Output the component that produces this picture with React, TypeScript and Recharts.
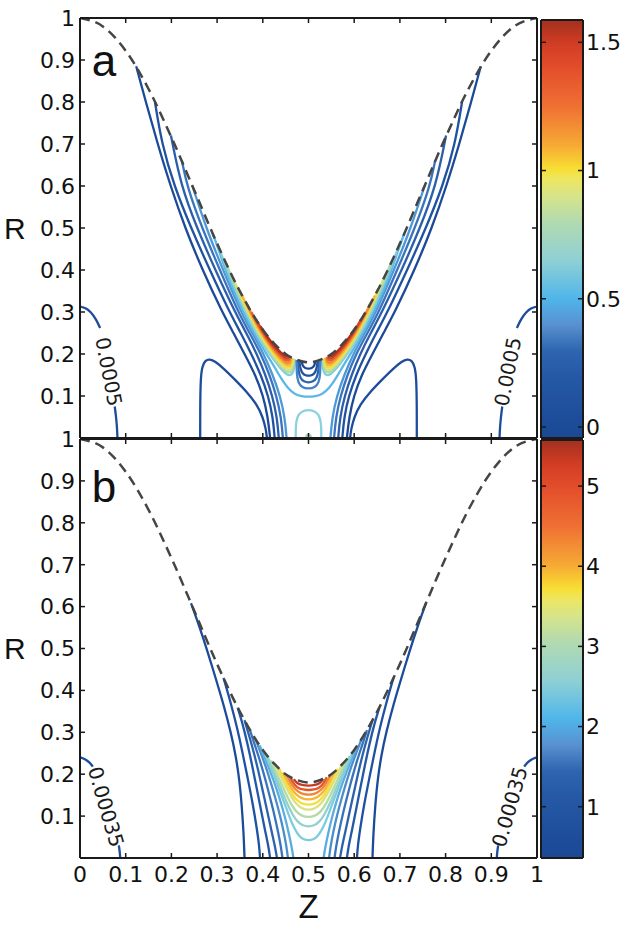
import React from "react";
import { ComposedChart, Line, XAxis, YAxis, ReferenceDot, ReferenceArea, Label } from "recharts";

type P = [number, number];

const FONT = '"Liberation Sans", Arial, Helvetica, sans-serif';
const NUMFONT = '"DejaVu Sans", "Liberation Sans", sans-serif';

// axis ticks
const zTicks = [0, 0.1, 0.2, 0.3, 0.4, 0.5, 0.6, 0.7, 0.8, 0.9, 1];
const rTicks = [0, 0.1, 0.2, 0.3, 0.4, 0.5, 0.6, 0.7, 0.8, 0.9, 1];
const rLabelTicks = [0.1, 0.2, 0.3, 0.4, 0.5, 0.6, 0.7, 0.8, 0.9, 1];

// colorbars
const cbTopDomain: P = [-0.043, 1.587];
const cbTopTicks = [0, 0.5, 1, 1.5];
const cbBotDomain: P = [0.36, 5.575];
const cbBotTicks = [1, 2, 3, 4, 5];
const cbSpan = [0, 1];

// dashed boundary (same in both panels)
const boundary: P[] = [
  [0, 1], [0.05, 0.98], [0.1, 0.922], [0.15, 0.831], [0.2, 0.716], [0.25, 0.59], [0.3, 0.463],
  [0.35, 0.349], [0.4, 0.258], [0.425, 0.225], [0.45, 0.2], [0.475, 0.186], [0.5, 0.18],
  [0.525, 0.186], [0.55, 0.2], [0.575, 0.225], [0.6, 0.258], [0.65, 0.349], [0.7, 0.463],
  [0.75, 0.59], [0.8, 0.716], [0.85, 0.831], [0.9, 0.922], [0.95, 0.98], [1, 1],
];

// ---------- panel a ----------
const tCornerL1: P[] = [[0, 0.313], [0.012, 0.31], [0.024, 0.3], [0.035, 0.283], [0.044, 0.262]];
const tCornerL2: P[] = [[0.076, 0.075], [0.079, 0.05], [0.081, 0.025], [0.082, 0]];
const tCornerR1: P[] = [[1, 0.313], [0.988, 0.31], [0.976, 0.3], [0.965, 0.283], [0.956, 0.262]];
const tCornerR2: P[] = [[0.924, 0.075], [0.921, 0.05], [0.919, 0.025], [0.918, 0]];

const tBumpL: P[] = [[0.263, 0], [0.263, 0.08], [0.264, 0.14], [0.267, 0.17], [0.274, 0.185], [0.284, 0.188], [0.295, 0.183], [0.315, 0.165], [0.34, 0.138], [0.365, 0.11], [0.387, 0.08], [0.4, 0.05], [0.407, 0.02], [0.409, 0]];
const tBumpR: P[] = [[0.737, 0], [0.737, 0.08], [0.736, 0.14], [0.733, 0.17], [0.726, 0.185], [0.716, 0.188], [0.705, 0.183], [0.685, 0.165], [0.66, 0.138], [0.635, 0.11], [0.613, 0.08], [0.6, 0.05], [0.593, 0.02], [0.591, 0]];

const tA1L: P[] = [[0.123, 0.885], [0.144, 0.8], [0.17, 0.7], [0.198, 0.6], [0.23, 0.5], [0.268, 0.4], [0.311, 0.3], [0.336, 0.25], [0.36, 0.2], [0.384, 0.15], [0.401, 0.1], [0.411, 0.05], [0.416, 0]];
const tA2L: P[] = [[0.164, 0.8], [0.179, 0.7], [0.206, 0.6], [0.243, 0.5], [0.284, 0.4], [0.327, 0.3], [0.352, 0.25], [0.375, 0.2], [0.396, 0.15], [0.412, 0.1], [0.422, 0.05], [0.426, 0]];
const tA3L: P[] = [[0.199, 0.72], [0.221, 0.6], [0.256, 0.5], [0.296, 0.4], [0.339, 0.3], [0.364, 0.25], [0.387, 0.2], [0.406, 0.15], [0.421, 0.1], [0.431, 0.05], [0.435, 0]];
const tA4L: P[] = [[0.223, 0.66], [0.234, 0.6], [0.267, 0.5], [0.306, 0.4], [0.346, 0.3], [0.371, 0.25], [0.396, 0.2], [0.415, 0.15], [0.43, 0.1], [0.44, 0.05], [0.444, 0]];
const tA5L: P[] = [[0.246, 0.6], [0.276, 0.5], [0.313, 0.4], [0.352, 0.3], [0.377, 0.25], [0.402, 0.2], [0.422, 0.15], [0.438, 0.1], [0.448, 0.05], [0.452, 0]];
const tA1R: P[] = [[0.877, 0.885], [0.856, 0.8], [0.83, 0.7], [0.802, 0.6], [0.77, 0.5], [0.732, 0.4], [0.689, 0.3], [0.664, 0.25], [0.64, 0.2], [0.616, 0.15], [0.599, 0.1], [0.589, 0.05], [0.584, 0]];
const tA2R: P[] = [[0.836, 0.8], [0.821, 0.7], [0.794, 0.6], [0.757, 0.5], [0.716, 0.4], [0.673, 0.3], [0.648, 0.25], [0.625, 0.2], [0.604, 0.15], [0.588, 0.1], [0.578, 0.05], [0.574, 0]];
const tA3R: P[] = [[0.801, 0.72], [0.779, 0.6], [0.744, 0.5], [0.704, 0.4], [0.661, 0.3], [0.636, 0.25], [0.613, 0.2], [0.594, 0.15], [0.579, 0.1], [0.569, 0.05], [0.565, 0]];
const tA4R: P[] = [[0.777, 0.66], [0.766, 0.6], [0.733, 0.5], [0.694, 0.4], [0.654, 0.3], [0.629, 0.25], [0.604, 0.2], [0.585, 0.15], [0.57, 0.1], [0.56, 0.05], [0.556, 0]];
const tA5R: P[] = [[0.754, 0.6], [0.724, 0.5], [0.687, 0.4], [0.648, 0.3], [0.623, 0.25], [0.598, 0.2], [0.578, 0.15], [0.562, 0.1], [0.552, 0.05], [0.548, 0]];

// light blue contour passing under the centre loops
const tF: P[] = [[0.29, 0.488], [0.303, 0.45], [0.318, 0.4], [0.337, 0.35], [0.357, 0.3], [0.381, 0.25], [0.408, 0.2], [0.425, 0.17], [0.44, 0.142], [0.455, 0.118], [0.47, 0.104], [0.485, 0.099], [0.5, 0.098], [0.515, 0.099], [0.53, 0.104], [0.545, 0.118], [0.56, 0.142], [0.575, 0.17], [0.592, 0.2], [0.619, 0.25], [0.643, 0.3], [0.663, 0.35], [0.682, 0.4], [0.697, 0.45], [0.71, 0.488]];

// coloured crescents along the boundary, left
const tU0L: P[] = [[0.395, 0.266], [0.406, 0.247], [0.4175, 0.23], [0.429, 0.215], [0.44, 0.203], [0.45, 0.194], [0.455, 0.196]];
const tU1L: P[] = [[0.385, 0.2825], [0.399, 0.256], [0.4125, 0.234], [0.426, 0.215], [0.44, 0.199], [0.451, 0.189], [0.455, 0.189], [0.457, 0.195]];
const tU2L: P[] = [[0.375, 0.3], [0.391, 0.2665], [0.4075, 0.238], [0.424, 0.2135], [0.44, 0.194], [0.452, 0.183], [0.457, 0.185], [0.459, 0.1936]];
const tU3L: P[] = [[0.365, 0.319], [0.384, 0.2766], [0.4025, 0.2423], [0.421, 0.213], [0.44, 0.189], [0.452, 0.178], [0.457, 0.178], [0.46, 0.184], [0.461, 0.192]];
const tU4L: P[] = [[0.355, 0.339], [0.376, 0.289], [0.3975, 0.247], [0.419, 0.2115], [0.44, 0.184], [0.452, 0.173], [0.458, 0.172], [0.461, 0.178], [0.463, 0.191]];
const tU5L: P[] = [[0.345, 0.359], [0.369, 0.2997], [0.3925, 0.2512], [0.416, 0.2108], [0.44, 0.179], [0.452, 0.168], [0.459, 0.166], [0.463, 0.175], [0.465, 0.19]];
const tU6L: P[] = [[0.335, 0.381], [0.361, 0.3135], [0.388, 0.2557], [0.414, 0.2098], [0.44, 0.174], [0.452, 0.162], [0.46, 0.16], [0.465, 0.17], [0.467, 0.189]];
const tU7L: P[] = [[0.32, 0.4154], [0.35, 0.3338], [0.38, 0.2665], [0.41, 0.2111], [0.44, 0.169], [0.452, 0.157], [0.461, 0.155], [0.466, 0.168], [0.469, 0.188]];
const tU8L: P[] = [[0.3, 0.4635], [0.335, 0.3636], [0.37, 0.281], [0.405, 0.2134], [0.44, 0.163], [0.452, 0.151], [0.462, 0.148], [0.468, 0.16], [0.471, 0.187]];
// right
const tU0R: P[] = [[0.605, 0.266], [0.594, 0.247], [0.5825, 0.23], [0.571, 0.215], [0.56, 0.203], [0.55, 0.194], [0.545, 0.196]];
const tU1R: P[] = [[0.615, 0.2825], [0.601, 0.256], [0.5875, 0.234], [0.574, 0.215], [0.56, 0.199], [0.549, 0.189], [0.545, 0.189], [0.543, 0.195]];
const tU2R: P[] = [[0.625, 0.3], [0.609, 0.2665], [0.5925, 0.238], [0.576, 0.2135], [0.56, 0.194], [0.548, 0.183], [0.543, 0.185], [0.541, 0.1936]];
const tU3R: P[] = [[0.635, 0.319], [0.616, 0.2766], [0.5975, 0.2423], [0.579, 0.213], [0.56, 0.189], [0.548, 0.178], [0.543, 0.178], [0.54, 0.184], [0.539, 0.192]];
const tU4R: P[] = [[0.645, 0.339], [0.624, 0.289], [0.6025, 0.247], [0.581, 0.2115], [0.56, 0.184], [0.548, 0.173], [0.542, 0.172], [0.539, 0.178], [0.537, 0.191]];
const tU5R: P[] = [[0.655, 0.359], [0.631, 0.2997], [0.6075, 0.2512], [0.584, 0.2108], [0.56, 0.179], [0.548, 0.168], [0.541, 0.166], [0.537, 0.175], [0.535, 0.19]];
const tU6R: P[] = [[0.665, 0.381], [0.639, 0.3135], [0.612, 0.2557], [0.586, 0.2098], [0.56, 0.174], [0.548, 0.162], [0.54, 0.16], [0.535, 0.17], [0.533, 0.189]];
const tU7R: P[] = [[0.68, 0.4154], [0.65, 0.3338], [0.62, 0.2665], [0.59, 0.2111], [0.56, 0.169], [0.548, 0.157], [0.539, 0.155], [0.534, 0.168], [0.531, 0.188]];
const tU8R: P[] = [[0.7, 0.4635], [0.665, 0.3636], [0.63, 0.281], [0.595, 0.2134], [0.56, 0.163], [0.548, 0.151], [0.538, 0.148], [0.532, 0.16], [0.529, 0.187]];

// dark loops hanging from the boundary at the centre
const tC1: P[] = [[0.485, 0.1818], [0.487, 0.172], [0.493, 0.166], [0.5, 0.165], [0.507, 0.166], [0.513, 0.172], [0.515, 0.1818]];
const tC2: P[] = [[0.48, 0.1832], [0.482, 0.165], [0.487, 0.153], [0.494, 0.149], [0.5, 0.148], [0.506, 0.149], [0.513, 0.153], [0.518, 0.165], [0.52, 0.1832]];
const tC3: P[] = [[0.477, 0.1846], [0.478, 0.16], [0.482, 0.142], [0.49, 0.134], [0.5, 0.132], [0.51, 0.134], [0.518, 0.142], [0.522, 0.16], [0.523, 0.1846]];
const tC4: P[] = [[0.474, 0.1855], [0.474, 0.155], [0.477, 0.132], [0.486, 0.12], [0.5, 0.117], [0.514, 0.12], [0.523, 0.132], [0.526, 0.155], [0.526, 0.1855]];
const tN: P[] = [[0.472, 0], [0.472, 0.03], [0.475, 0.05], [0.483, 0.063], [0.5, 0.068], [0.517, 0.063], [0.525, 0.05], [0.528, 0.03], [0.528, 0]];
const tDot: P[] = [[0.495, 0], [0.495, 0.006], [0.5, 0.01], [0.505, 0.006], [0.505, 0]];

// ---------- panel b ----------
const bCornerL1: P[] = [[0, 0.24], [0.012, 0.236], [0.022, 0.227], [0.028, 0.218]];
const bCornerL2: P[] = [[0.085, 0.03], [0.087, 0.015], [0.088, 0]];
const bCornerR1: P[] = [[1, 0.24], [0.988, 0.236], [0.978, 0.227], [0.972, 0.218]];
const bCornerR2: P[] = [[0.915, 0.03], [0.913, 0.015], [0.912, 0]];

const bV1L: P[] = [[0.243, 0.608], [0.262, 0.55], [0.28, 0.49], [0.298, 0.425], [0.315, 0.363], [0.33, 0.3], [0.341, 0.244], [0.349, 0.185], [0.354, 0.125], [0.358, 0.06], [0.36, 0]];
const bV2L: P[] = [[0.314, 0.43], [0.33, 0.37], [0.344, 0.31], [0.356, 0.25], [0.367, 0.19], [0.378, 0.13], [0.387, 0.07], [0.392, 0.03], [0.394, 0]];
const bV3L: P[] = [[0.345, 0.359], [0.356, 0.32], [0.366, 0.275], [0.376, 0.225], [0.386, 0.17], [0.396, 0.115], [0.405, 0.065], [0.412, 0.03], [0.416, 0]];
const bV4L: P[] = [[0.36, 0.329], [0.372, 0.285], [0.382, 0.245], [0.393, 0.195], [0.403, 0.145], [0.413, 0.095], [0.422, 0.05], [0.428, 0.02], [0.431, 0]];
const bV5L: P[] = [[0.372, 0.305], [0.383, 0.268], [0.394, 0.232], [0.405, 0.19], [0.415, 0.148], [0.425, 0.105], [0.434, 0.06], [0.44, 0.025], [0.443, 0]];
const bV6L: P[] = [[0.384, 0.284], [0.395, 0.252], [0.406, 0.22], [0.417, 0.182], [0.427, 0.145], [0.437, 0.105], [0.446, 0.062], [0.452, 0.026], [0.455, 0]];
const bV7L: P[] = [[0.393, 0.269], [0.404, 0.24], [0.415, 0.21], [0.426, 0.178], [0.437, 0.142], [0.447, 0.104], [0.456, 0.064], [0.463, 0.028], [0.467, 0]];
const bV1R: P[] = [[0.757, 0.608], [0.738, 0.55], [0.72, 0.49], [0.702, 0.425], [0.685, 0.363], [0.67, 0.3], [0.659, 0.244], [0.651, 0.185], [0.646, 0.125], [0.642, 0.06], [0.64, 0]];
const bV2R: P[] = [[0.686, 0.43], [0.67, 0.37], [0.656, 0.31], [0.644, 0.25], [0.633, 0.19], [0.622, 0.13], [0.613, 0.07], [0.608, 0.03], [0.606, 0]];
const bV3R: P[] = [[0.655, 0.359], [0.644, 0.32], [0.634, 0.275], [0.624, 0.225], [0.614, 0.17], [0.604, 0.115], [0.595, 0.065], [0.588, 0.03], [0.584, 0]];
const bV4R: P[] = [[0.64, 0.329], [0.628, 0.285], [0.618, 0.245], [0.607, 0.195], [0.597, 0.145], [0.587, 0.095], [0.578, 0.05], [0.572, 0.02], [0.569, 0]];
const bV5R: P[] = [[0.628, 0.305], [0.617, 0.268], [0.606, 0.232], [0.595, 0.19], [0.585, 0.148], [0.575, 0.105], [0.566, 0.06], [0.56, 0.025], [0.557, 0]];
const bV6R: P[] = [[0.616, 0.284], [0.605, 0.252], [0.594, 0.22], [0.583, 0.182], [0.573, 0.145], [0.563, 0.105], [0.554, 0.062], [0.548, 0.026], [0.545, 0]];
const bV7R: P[] = [[0.607, 0.269], [0.596, 0.24], [0.585, 0.21], [0.574, 0.178], [0.563, 0.142], [0.553, 0.104], [0.544, 0.064], [0.537, 0.028], [0.533, 0]];

const bU0: P[] = [[0.402, 0.255], [0.413, 0.227], [0.424, 0.198], [0.435, 0.167], [0.446, 0.135], [0.457, 0.102], [0.468, 0.072], [0.48, 0.051], [0.49, 0.044], [0.5, 0.042], [0.51, 0.044], [0.52, 0.051], [0.532, 0.072], [0.543, 0.102], [0.554, 0.135], [0.565, 0.167], [0.576, 0.198], [0.587, 0.227], [0.598, 0.255]];
const bU1: P[] = [[0.41, 0.2438], [0.421, 0.215], [0.432, 0.186], [0.443, 0.157], [0.454, 0.128], [0.465, 0.103], [0.476, 0.086], [0.488, 0.077], [0.5, 0.075], [0.512, 0.077], [0.524, 0.086], [0.535, 0.103], [0.546, 0.128], [0.557, 0.157], [0.568, 0.186], [0.579, 0.215], [0.59, 0.2438]];
const bU2: P[] = [[0.418, 0.233], [0.429, 0.205], [0.44, 0.178], [0.451, 0.153], [0.462, 0.128], [0.473, 0.11], [0.486, 0.1], [0.5, 0.097], [0.514, 0.1], [0.527, 0.11], [0.538, 0.128], [0.549, 0.153], [0.56, 0.178], [0.571, 0.205], [0.582, 0.233]];
const bU3: P[] = [[0.427, 0.2225], [0.438, 0.197], [0.449, 0.173], [0.46, 0.15], [0.471, 0.131], [0.485, 0.118], [0.5, 0.114], [0.515, 0.118], [0.529, 0.131], [0.54, 0.15], [0.551, 0.173], [0.562, 0.197], [0.573, 0.2225]];
const bU4: P[] = [[0.436, 0.2128], [0.446, 0.19], [0.456, 0.168], [0.466, 0.149], [0.477, 0.135], [0.489, 0.128], [0.5, 0.127], [0.511, 0.128], [0.523, 0.135], [0.534, 0.149], [0.544, 0.168], [0.554, 0.19], [0.564, 0.2128]];
const bU5: P[] = [[0.444, 0.2043], [0.453, 0.184], [0.463, 0.165], [0.473, 0.151], [0.485, 0.142], [0.5, 0.139], [0.515, 0.142], [0.527, 0.151], [0.537, 0.165], [0.547, 0.184], [0.556, 0.2043]];
const bU6: P[] = [[0.452, 0.1986], [0.461, 0.179], [0.47, 0.165], [0.48, 0.156], [0.49, 0.152], [0.5, 0.151], [0.51, 0.152], [0.52, 0.156], [0.53, 0.165], [0.539, 0.179], [0.548, 0.1986]];
const bU7: P[] = [[0.46, 0.1929], [0.468, 0.176], [0.477, 0.167], [0.488, 0.163], [0.5, 0.162], [0.512, 0.163], [0.523, 0.167], [0.532, 0.176], [0.54, 0.1929]];
const bU8: P[] = [[0.468, 0.1883], [0.475, 0.178], [0.485, 0.174], [0.5, 0.172], [0.515, 0.174], [0.525, 0.178], [0.532, 0.1883]];

// contour labels (position in data units, rotation)
const topLabels = [
  { text: "0.0005", z: 0.063, r: 0.158, angle: 79 },
  { text: "0.0005", z: 0.936, r: 0.158, angle: -79 },
];
const botLabels = [
  { text: "0.00035", z: 0.057, r: 0.122, angle: 74 },
  { text: "0.00035", z: 0.94, r: 0.122, angle: -74 },
];

// colormap (fraction along bar -> colour)
const cmapStops: [number, string][] = [
  [0, "#1a4894"], [0.15, "#2559a6"], [0.21, "#2f66b0"], [0.27, "#5890d0"], [0.333, "#4fb6ea"],
  [0.425, "#8fd0d4"], [0.517, "#b2dab0"], [0.578, "#d6e48a"], [0.62, "#eee660"], [0.645, "#f8de32"],
  [0.7, "#f6aa34"], [0.793, "#ef7033"], [0.88, "#e4502c"], [0.947, "#cf3c24"], [1, "#a2301e"],
];

type Series = { id: string; pts: P[]; color: string };

const DARK = "#1c4c9b";

const topSeries: Series[] = [
  { id: "tCornerL1", pts: tCornerL1, color: DARK },
  { id: "tCornerL2", pts: tCornerL2, color: DARK },
  { id: "tCornerR1", pts: tCornerR1, color: DARK },
  { id: "tCornerR2", pts: tCornerR2, color: DARK },
  { id: "tBumpL", pts: tBumpL, color: DARK },
  { id: "tBumpR", pts: tBumpR, color: DARK },
  { id: "tA1L", pts: tA1L, color: "#1b4a98" },
  { id: "tA1R", pts: tA1R, color: "#1b4a98" },
  { id: "tA2L", pts: tA2L, color: "#2052a1" },
  { id: "tA2R", pts: tA2R, color: "#2052a1" },
  { id: "tA3L", pts: tA3L, color: "#2b5fab" },
  { id: "tA3R", pts: tA3R, color: "#2b5fab" },
  { id: "tA4L", pts: tA4L, color: "#3b74bc" },
  { id: "tA4R", pts: tA4R, color: "#3b74bc" },
  { id: "tA5L", pts: tA5L, color: "#4d98d6" },
  { id: "tA5R", pts: tA5R, color: "#4d98d6" },
  { id: "tF", pts: tF, color: "#5cb7e8" },
  { id: "tU8L", pts: tU8L, color: "#84cfd6" },
  { id: "tU8R", pts: tU8R, color: "#84cfd6" },
  { id: "tU7L", pts: tU7L, color: "#a9d9b0" },
  { id: "tU7R", pts: tU7R, color: "#a9d9b0" },
  { id: "tU6L", pts: tU6L, color: "#d2e283" },
  { id: "tU6R", pts: tU6R, color: "#d2e283" },
  { id: "tU5L", pts: tU5L, color: "#f5dd3e" },
  { id: "tU5R", pts: tU5R, color: "#f5dd3e" },
  { id: "tU4L", pts: tU4L, color: "#f6b434" },
  { id: "tU4R", pts: tU4R, color: "#f6b434" },
  { id: "tU3L", pts: tU3L, color: "#f08a34" },
  { id: "tU3R", pts: tU3R, color: "#f08a34" },
  { id: "tU2L", pts: tU2L, color: "#e6602c" },
  { id: "tU2R", pts: tU2R, color: "#e6602c" },
  { id: "tU1L", pts: tU1L, color: "#d44226" },
  { id: "tU1R", pts: tU1R, color: "#d44226" },
  { id: "tU0L", pts: tU0L, color: "#b0301e" },
  { id: "tU0R", pts: tU0R, color: "#b0301e" },
  { id: "tC1", pts: tC1, color: "#1a4896" },
  { id: "tC2", pts: tC2, color: "#22529f" },
  { id: "tC3", pts: tC3, color: "#2e63ad" },
  { id: "tC4", pts: tC4, color: "#4282c6" },
  { id: "tN", pts: tN, color: "#8ad2de" },
  { id: "tDot", pts: tDot, color: "#9fd5b5" },
];

const botSeries: Series[] = [
  { id: "bCornerL1", pts: bCornerL1, color: DARK },
  { id: "bCornerL2", pts: bCornerL2, color: DARK },
  { id: "bCornerR1", pts: bCornerR1, color: DARK },
  { id: "bCornerR2", pts: bCornerR2, color: DARK },
  { id: "bV1L", pts: bV1L, color: "#1b4b9a" },
  { id: "bV1R", pts: bV1R, color: "#1b4b9a" },
  { id: "bV2L", pts: bV2L, color: "#1e51a1" },
  { id: "bV2R", pts: bV2R, color: "#1e51a1" },
  { id: "bV3L", pts: bV3L, color: "#2457a6" },
  { id: "bV3R", pts: bV3R, color: "#2457a6" },
  { id: "bV4L", pts: bV4L, color: "#2c61ad" },
  { id: "bV4R", pts: bV4R, color: "#2c61ad" },
  { id: "bV5L", pts: bV5L, color: "#3a73bb" },
  { id: "bV5R", pts: bV5R, color: "#3a73bb" },
  { id: "bV6L", pts: bV6L, color: "#4b8ecc" },
  { id: "bV6R", pts: bV6R, color: "#4b8ecc" },
  { id: "bV7L", pts: bV7L, color: "#5cacdf" },
  { id: "bV7R", pts: bV7R, color: "#5cacdf" },
  { id: "bU0", pts: bU0, color: "#7ccce0" },
  { id: "bU1", pts: bU1, color: "#92d2cb" },
  { id: "bU2", pts: bU2, color: "#b3dba6" },
  { id: "bU3", pts: bU3, color: "#d9e27e" },
  { id: "bU4", pts: bU4, color: "#f6de40" },
  { id: "bU5", pts: bU5, color: "#f7b535" },
  { id: "bU6", pts: bU6, color: "#f08632" },
  { id: "bU7", pts: bU7, color: "#e3562b" },
  { id: "bU8", pts: bU8, color: "#c73a22" },
];

const toPts = (a: P[]) => a.map(([z, r]) => ({ z, r }));
const zRows = zTicks.map((z) => ({ z }));
const cbRows = cbSpan.map((z) => ({ z }));

const FRAME = { stroke: "#1a1a1a", strokeWidth: 2 };
const TICKLINE = { stroke: "#1a1a1a", strokeWidth: 1.5 };
const TICKFONT = { fontSize: 22, fill: "#111", fontFamily: NUMFONT };
// draws no label but keeps the tick mark
const NoLabel = () => <g />;

type PanelProps = {
  height: number;
  top: number;
  series: Series[];
  labels: { text: string; z: number; r: number; angle: number }[];
  letter: string;
  letterR: number;
  showZ: boolean;
};

function Panel({ height, top, series, labels, letter, letterR, showZ }: PanelProps) {
  return (
    <ComposedChart width={624} height={height} data={zRows} margin={{ top, right: 87, bottom: 8, left: 0 }}>
      <XAxis xAxisId="x" dataKey="z" type="number" domain={[0, 1]} ticks={zTicks} interval={0}
        allowDataOverflow orientation="bottom" mirror tick={NoLabel} tickSize={5}
        tickLine={TICKLINE} axisLine={FRAME} />
      <XAxis xAxisId="xt" dataKey="z" type="number" domain={[0, 1]} ticks={zTicks} interval={0} allowDataOverflow
        orientation="top" mirror tick={NoLabel} tickSize={5} tickLine={TICKLINE} axisLine={FRAME} />
      {showZ && (
        <XAxis xAxisId="xl" dataKey="z" type="number" domain={[0, 1]} ticks={zTicks} interval={0} allowDataOverflow
          orientation="bottom" height={60} tickLine={false} axisLine={false}
          tickSize={3} tickMargin={5} tick={TICKFONT}>
          <Label value="Z" position="insideBottom" offset={0} fontSize={33} fill="#111" fontFamily={FONT} />
        </XAxis>
      )}
      <YAxis yAxisId="y" type="number" domain={[0, 1]} ticks={rTicks} interval={0}
        allowDataOverflow orientation="left" mirror tick={NoLabel} tickSize={5}
        tickLine={TICKLINE} axisLine={FRAME} />
      <YAxis yAxisId="yr" type="number" domain={[0, 1]} ticks={rTicks} interval={0} allowDataOverflow
        orientation="right" mirror tick={NoLabel} tickSize={5} tickLine={TICKLINE} axisLine={FRAME} />
      <YAxis yAxisId="yl" type="number" domain={[0, 1]} ticks={rLabelTicks} interval={0} allowDataOverflow
        orientation="left" width={80} tickLine={false} axisLine={false}
        tickSize={2} tickMargin={3} tick={TICKFONT}>
        <Label value="R" position="insideLeft" offset={4} fontSize={30} fill="#111" fontFamily={FONT} />
      </YAxis>

      {series.map((s) => (
        <Line key={s.id} xAxisId="x" yAxisId="y" data={toPts(s.pts)} dataKey="r" type="basis"
          stroke={s.color} strokeWidth={2.3} dot={false} activeDot={false}
          isAnimationActive={false} legendType="none" />
      ))}
      <Line xAxisId="x" yAxisId="y" data={toPts(boundary)} dataKey="r" type="monotone"
        stroke="#454545" strokeWidth={2.5} strokeDasharray="10 6" dot={false} activeDot={false}
        isAnimationActive={false} legendType="none" />

      {labels.map((l, i) => (
        <ReferenceDot key={i} xAxisId="x" yAxisId="y" x={l.z} y={l.r} r={0} fill="none" stroke="none"
          ifOverflow="visible"
          label={{ value: l.text, position: "center", angle: l.angle, fontSize: 20, fill: "#1a1a1a", fontFamily: NUMFONT }} />
      ))}
      <ReferenceDot xAxisId="x" yAxisId="y" x={0.0525} y={letterR} r={0} fill="none" stroke="none"
        ifOverflow="visible"
        label={{ value: letter, position: "center", fontSize: 44, fill: "#111", fontFamily: FONT }} />
    </ComposedChart>
  );
}

type BarProps = { height: number; top: number; domain: P; ticks: number[]; gradId: string };

function ColorBar({ height, top, domain, ticks, gradId }: BarProps) {
  return (
    <ComposedChart width={624} height={height} data={cbRows} margin={{ top, right: 0, bottom: 8, left: 541 }}>
      <defs>
        <linearGradient id={gradId} x1="0" y1="1" x2="0" y2="0">
          {cmapStops.map(([o, c]) => (
            <stop key={o} offset={o} stopColor={c} />
          ))}
        </linearGradient>
      </defs>
      <ReferenceArea xAxisId="cx" yAxisId="cl" x1={0} x2={1} y1={domain[0]} y2={domain[1]}
        fill={`url(#${gradId})`} fillOpacity={1} stroke="none" ifOverflow="visible" />
      <XAxis xAxisId="cx" dataKey="z" type="number" domain={[0, 1]} allowDataOverflow orientation="bottom" mirror
        tick={NoLabel} tickLine={false} axisLine={FRAME} />
      <XAxis xAxisId="ct" dataKey="z" type="number" domain={[0, 1]} allowDataOverflow orientation="top" mirror
        tick={NoLabel} tickLine={false} axisLine={FRAME} />
      <YAxis yAxisId="cl" type="number" domain={domain} ticks={ticks} interval={0} allowDataOverflow
        orientation="left" mirror tick={NoLabel} tickSize={5} tickLine={TICKLINE} axisLine={FRAME} />
      <YAxis yAxisId="cr" type="number" domain={domain} ticks={ticks} interval={0} allowDataOverflow
        orientation="right" mirror tick={NoLabel} tickSize={5} tickLine={TICKLINE} axisLine={FRAME} />
      <YAxis yAxisId="clab" type="number" domain={domain} ticks={ticks} interval={0} allowDataOverflow
        orientation="right" width={41} tickLine={false} axisLine={false}
        tickSize={0} tickMargin={3} tick={TICKFONT} />
    </ComposedChart>
  );
}

export default function App() {
  const abs = (top: number): React.CSSProperties => ({ position: "absolute", left: 0, top });
  return (
    <div style={{ position: "absolute", left: 0, top: 0, width: 624, height: 926, background: "#fff", fontFamily: FONT }}>
      <div style={abs(0)}>
        <ColorBar height={446} top={20} domain={cbTopDomain} ticks={cbTopTicks} gradId="cbTop" />
      </div>
      <div style={abs(0)}>
        <ColorBar height={866} top={440} domain={cbBotDomain} ticks={cbBotTicks} gradId="cbBot" />
      </div>
      <div style={abs(0)}>
        <Panel height={446} top={18} series={topSeries} labels={topLabels} letter="a" letterR={0.898} showZ={false} />
      </div>
      <div style={abs(0)}>
        <Panel height={926} top={439} series={botSeries} labels={botLabels} letter="b" letterR={0.888} showZ={true} />
      </div>
    </div>
  );
}
